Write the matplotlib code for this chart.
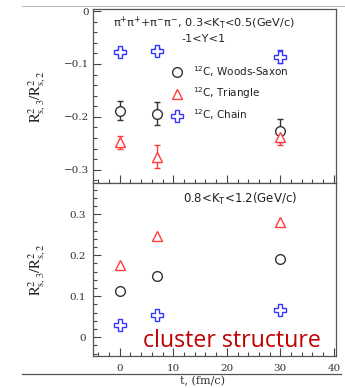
import matplotlib
matplotlib.use("Agg")
import matplotlib.pyplot as plt
from matplotlib.lines import Line2D
from matplotlib.ticker import MultipleLocator

plt.rcParams['mathtext.default'] = 'regular'

# freeze-out time (fm/c)
t = [0, 7, 30]

# 0.3 < K_T < 0.5 GeV/c
ws_low = [-0.188, -0.194, -0.226]
ws_low_err = [0.018, 0.022, 0.022]
tri_low = [-0.248, -0.275, -0.238]
tri_low_err = [0.012, 0.022, 0.015]
chain_low = [-0.077, -0.075, -0.086]
chain_low_err = [0.005, 0.005, 0.012]

# 0.8 < K_T < 1.2 GeV/c
ws_high = [0.112, 0.150, 0.191]
tri_high = [0.176, 0.246, 0.281]
chain_high = [0.029, 0.055, 0.067]

xticks = [0, 10, 20, 30, 40]
yticks_low = [0, -0.1, -0.2, -0.3]
yticks_high = [0, 0.1, 0.2, 0.3]
yticklabels_low = ['0', '\u22120.1', '\u22120.2', '\u22120.3']
yticklabels_high = ['0', '0.1', '0.2', '0.3']

labels = [r'$^{12}$C, Woods-Saxon', r'$^{12}$C, Triangle', r'$^{12}$C, Chain']

c_ws = '#333333'
c_tri = '#ff3b3b'
c_chain = '#3535ff'

W, H = 345, 388
fig = plt.figure(figsize=(W / 100, H / 100), dpi=100)

L, R = 93 / W, 336 / W
ax1 = fig.add_axes([L, 1 - 183 / H, R - L, (183 - 9.5) / H])
ax2 = fig.add_axes([L, 1 - 356 / H, R - L, (356 - 183) / H])

sty = dict(ls='none', mfc='white', mew=1.0)
ebar = dict(elinewidth=1.0, capsize=2.5, capthick=1.0)
ax1.errorbar(t, ws_low, yerr=ws_low_err, marker='o', ms=7, color=c_ws, ecolor=c_ws, **ebar, **sty)
ax1.errorbar(t, tri_low, yerr=tri_low_err, marker='^', ms=7, color=c_tri, ecolor=c_tri, **ebar, **sty)
ax1.errorbar(t, chain_low, yerr=chain_low_err, marker='P', ms=8, color=c_chain, ecolor=c_chain, **ebar, **sty)

ax2.plot(t, ws_high, marker='o', ms=7, color=c_ws, **sty)
ax2.plot(t, tri_high, marker='^', ms=7, color=c_tri, **sty)
ax2.plot(t, chain_high, marker='P', ms=8, color=c_chain, **sty)

ax1.set_ylim(-0.325, 0.003)
ax2.set_ylim(-0.046, 0.376)
for ax, yt, ytl in ((ax1, yticks_low, yticklabels_low), (ax2, yticks_high, yticklabels_high)):
    ax.set_xlim(-5, 40.4)
    ax.set_xticks(xticks)
    ax.set_yticks(yt)
    ax.set_yticklabels(ytl)
    ax.xaxis.set_minor_locator(MultipleLocator(2))
    ax.yaxis.set_minor_locator(MultipleLocator(0.02))
    ax.tick_params(which='both', direction='in', top=False, right=False,
                   color='#444444', width=0.8)
    ax.tick_params(which='major', length=6)
    ax.tick_params(which='minor', length=3)
    for s in ax.spines.values():
        s.set_color('#555555')
        s.set_linewidth(0.9)
    for lab in ax.get_xticklabels() + ax.get_yticklabels():
        lab.set_fontfamily('DejaVu Serif')
        lab.set_fontsize(7.5)
        lab.set_color('#333333')

ax1.tick_params(axis='x', labelbottom=False)
ax1.tick_params(axis='y', pad=3)
ax2.tick_params(axis='y', pad=5)
ax2.tick_params(axis='x', pad=6)

tkw = dict(fontfamily='DejaVu Sans', color='#222222')
ax1.text(0.455, 0.925, r'$\pi^{+}\pi^{+}$+$\pi^{-}\pi^{-}$, 0.3<K$_{T}$<0.5(GeV/c)',
         transform=ax1.transAxes, ha='center', va='center', fontsize=8.1, **tkw)
ax1.text(0.455, 0.828, '-1<Y<1', transform=ax1.transAxes, ha='center', va='center',
         fontsize=8.1, **tkw)
ax2.text(0.605, 0.91, '0.8<K$_{T}$<1.2(GeV/c)', transform=ax2.transAxes,
         ha='center', va='center', fontsize=8.5, **tkw)

handles = [Line2D([], [], marker='o', ms=7, color=c_ws, **sty),
           Line2D([], [], marker='^', ms=7, color=c_tri, **sty),
           Line2D([], [], marker='P', ms=8, color=c_chain, **sty)]
ax1.legend(handles, labels, loc='upper left', bbox_to_anchor=(0.324, 0.684),
           frameon=False, handlelength=1.0, handletextpad=1.0, labelspacing=0.6,
           prop={'family': 'DejaVu Sans', 'size': 7.5}, labelcolor='#222222',
           borderaxespad=0, borderpad=0)

ylab = r'$\mathrm{R^2_{s,3}/R^2_{s,2}}$'
for ax in (ax1, ax2):
    pos = ax.get_position()
    fig.text(37 / W, pos.y0 + pos.height / 2, ylab, rotation=90, ha='center',
             va='center', fontsize=10.5, family='DejaVu Serif', color='#222222',
             math_fontfamily='stix')

ax2.text((143 - 93) / 243, (356 - 347) / 173, 'cluster structure',
         transform=ax2.transAxes, ha='left', va='baseline', fontsize=16.7,
         family='Open Sans', color='#c00000')

fig.text(202 / W, 1 - 376 / H, 't, (fm/c)', ha='center', va='top', fontsize=8,
         family='DejaVu Serif', color='#333333')

fig.add_artist(Line2D([22 / W, 1.0], [1 - 6 / H, 1 - 6 / H], transform=fig.transFigure,
                      color='#bbbbbb', lw=0.8))
fig.add_artist(Line2D([22 / W, 341 / W], [1 - 374 / H, 1 - 374 / H],
                      transform=fig.transFigure, color='#555555', lw=0.9))

fig.savefig('out.png', dpi=100)
